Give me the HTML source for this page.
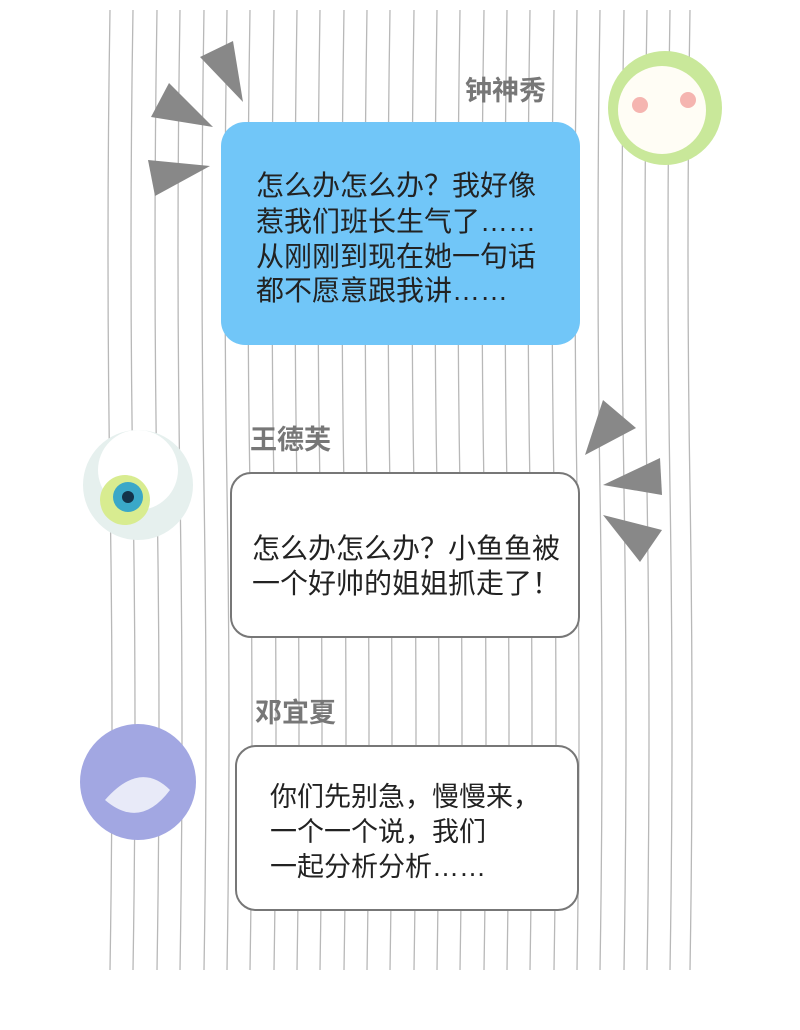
<!DOCTYPE html>
<html><head><meta charset="utf-8"><style>
body{margin:0;background:#fff;}
.t{font-family:"Liberation Sans","Noto Sans CJK SC",sans-serif;}
</style></head><body>
<svg width="800" height="1025" viewBox="0 0 800 1025" xmlns="http://www.w3.org/2000/svg">
<rect width="800" height="1025" fill="#fff"/>
<g stroke="#b8b8b8" stroke-width="1.3" fill="none">
<path d="M110 10 Q106 250 110 490 Q114 730 110 970"/>
<path d="M133 10 Q129 250 133 490 Q137 730 133 970"/>
<path d="M157 10 Q153 250 157 490 Q161 730 157 970"/>
<path d="M180 10 Q176 250 180 490 Q184 730 180 970"/>
<path d="M204 10 Q200 250 204 490 Q208 730 204 970"/>
<path d="M227 10 Q223 250 227 490 Q231 730 227 970"/>
<path d="M250 10 Q246 250 250 490 Q254 730 250 970"/>
<path d="M274 10 Q270 250 274 490 Q278 730 274 970"/>
<path d="M297 10 Q293 250 297 490 Q301 730 297 970"/>
<path d="M320 10 Q316 250 320 490 Q324 730 320 970"/>
<path d="M344 10 Q340 250 344 490 Q348 730 344 970"/>
<path d="M367 10 Q363 250 367 490 Q371 730 367 970"/>
<path d="M390 10 Q386 250 390 490 Q394 730 390 970"/>
<path d="M414 10 Q410 250 414 490 Q418 730 414 970"/>
<path d="M437 10 Q433 250 437 490 Q441 730 437 970"/>
<path d="M460 10 Q456 250 460 490 Q464 730 460 970"/>
<path d="M484 10 Q480 250 484 490 Q488 730 484 970"/>
<path d="M507 10 Q503 250 507 490 Q511 730 507 970"/>
<path d="M530 10 Q526 250 530 490 Q534 730 530 970"/>
<path d="M554 10 Q550 250 554 490 Q558 730 554 970"/>
<path d="M577 10 Q573 250 577 490 Q581 730 577 970"/>
<path d="M600 10 Q596 250 600 490 Q604 730 600 970"/>
<path d="M624 10 Q620 250 624 490 Q628 730 624 970"/>
<path d="M647 10 Q643 250 647 490 Q651 730 647 970"/>
<path d="M670 10 Q666 250 670 490 Q674 730 670 970"/>
<path d="M690 10 Q686 250 690 490 Q694 730 690 970"/>
</g>
<g fill="#888">
<polygon points="200,57 233,41 243,102"/>
<polygon points="151,117 169,83 213,127"/>
<polygon points="148,160 210,166 155,196"/>
<polygon points="585,455 603,400 636,428"/>
<polygon points="603,485 660,458 662,495"/>
<polygon points="603,515 662,530 640,562"/>
</g>
<circle cx="665" cy="108" r="57" fill="#c9e89a"/>
<circle cx="662" cy="110" r="44" fill="#fffdf5"/>
<circle cx="640" cy="105" r="8" fill="#f5b5b0"/>
<circle cx="688" cy="100" r="8" fill="#f5b5b0"/>
<circle cx="138" cy="485" r="55" fill="#e6f0ee"/>
<circle cx="138" cy="470" r="40" fill="#fff"/>
<circle cx="125" cy="500" r="25" fill="#d8ec90"/>
<circle cx="128" cy="497" r="15" fill="#3aa8c8"/>
<circle cx="128" cy="497" r="6" fill="#13334a"/>
<circle cx="138" cy="782" r="58" fill="#a2a7e2"/>
<path d="M105 800 Q140 760 170 790 Q140 830 105 800Z" fill="#e8eaf8"/>
<rect x="221" y="122" width="359" height="223" rx="24" fill="#71c6f8"/>
<rect x="231" y="473" width="348" height="164" rx="20" fill="#fff" stroke="#777" stroke-width="2"/>
<rect x="236" y="746" width="342" height="164" rx="20" fill="#fff" stroke="#777" stroke-width="2"/>
<g class="t" fill="#777" font-weight="bold" font-size="27">
<text x="465" y="100">钟神秀</text>
<text x="250" y="449">王德芙</text>
<text x="255" y="722">邓宜夏</text>
</g>
<g class="t" fill="#222" font-size="28">
<text x="256" y="195">怎么办怎么办？我好像</text>
<text x="256" y="231">惹我们班长生气了……</text>
<text x="256" y="266">从刚刚到现在她一句话</text>
<text x="256" y="300">都不愿意跟我讲……</text>
<text x="252" y="558">怎么办怎么办？小鱼鱼被</text>
<text x="252" y="593">一个好帅的姐姐抓走了！</text>
</g>
<g class="t" fill="#222" font-size="27">
<text x="270" y="806">你们先别急，慢慢来，</text>
<text x="270" y="841">一个一个说，我们</text>
<text x="270" y="876">一起分析分析……</text>
</g>
</svg>
</body></html>
